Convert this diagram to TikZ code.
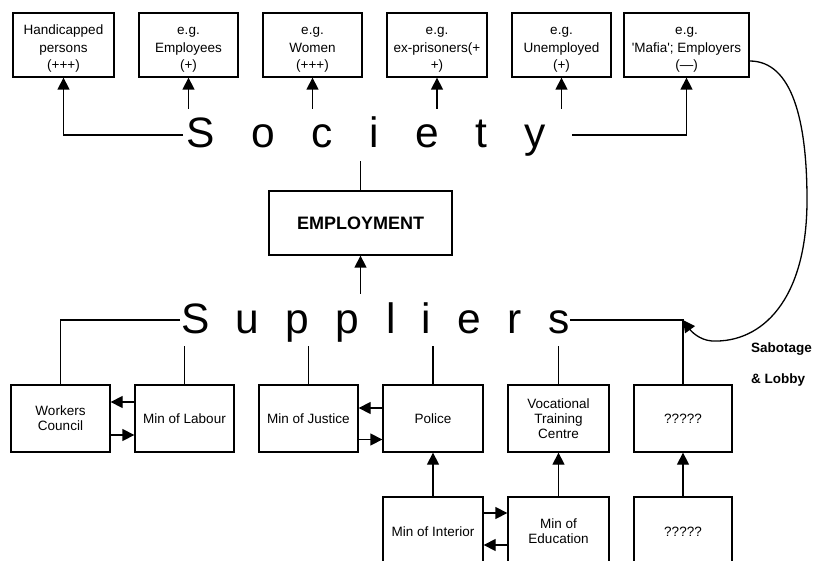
\documentclass[tikz,border=0pt]{standalone}
\usepackage{fontspec}
\setmainfont{Liberation Sans}
\usetikzlibrary{arrows.meta}

% strut that lowers the first line of the three-line boxes
\newcommand{\firstline}{\rule{0pt}{17pt}}

\tikzset{
  box/.style={draw, line width=1.3pt, inner sep=0pt, align=center,
    font=\fontsize{13.5}{17.5}\selectfont},
  topbox/.style={box, minimum height=64pt},
  lowbox/.style={box, minimum height=67pt, font=\fontsize{13.5}{15}\selectfont},
  basebox/.style={box, minimum height=69pt, font=\fontsize{13.5}{15}\selectfont},
  bigword/.style={inner xsep=0pt, inner ysep=6pt, text height=33pt, text depth=7pt,
    font=\fontsize{42.5}{46}\selectfont},
  link/.style={line width=1.3pt},
  arr/.style={line width=1.3pt, -{Triangle[length=12pt,width=12pt]}}
}

\begin{document}
\begin{tikzpicture}[x=1pt, y=-1pt]
  \useasboundingbox (0,0) rectangle (816,561);

  % groups in society
  \node[topbox, minimum width=101pt] (b1) at (63.5,45) {\firstline Handicapped\\persons\\(+++)};
  \node[topbox, minimum width=99pt]  (b2) at (188.5,45) {\firstline e.g.\\Employees\\(+)};
  \node[topbox, minimum width=99pt]  (b3) at (312.5,45) {\firstline e.g.\\Women\\(+++)};
  \node[topbox, minimum width=100pt] (b4) at (437,45) {\firstline e.g.\\ex-prisoners(+\\+)};
  \node[topbox, minimum width=99pt]  (b5) at (561.5,45) {\firstline e.g.\\Unemployed\\(+)};
  \node[topbox, minimum width=125pt] (b6) at (686.5,45)
    {\firstline e.g.\\\textquotesingle Mafia\textquotesingle; Employers\\(---)};

  % the two headings
  \node[bigword, anchor=base west] (soc) at (186,148)
    {\spaceskip=36.7pt S o c i e t y};
  \node[bigword, anchor=base west] (sup) at (181,333)
    {\spaceskip=26.4pt S u p p l i e r s};

  \node[box, minimum width=183pt, minimum height=64pt,
        font=\fontsize{18}{20}\selectfont\bfseries] (emp) at (360.5,223) {EMPLOYMENT};

  % suppliers
  \node[lowbox, minimum width=99pt]  (wc) at (60.5,418.5) {Workers\\Council};
  \node[lowbox, minimum width=99pt]  (ml) at (184.5,418.5) {Min of Labour};
  \node[lowbox, minimum width=99pt]  (mj) at (308.5,418.5) {Min of Justice};
  \node[lowbox, minimum width=100pt] (po) at (433,418.5) {Police};
  \node[lowbox, minimum width=101pt] (vt) at (558.5,418.5) {Vocational\\Training\\Centre};
  \node[lowbox, minimum width=98pt]  (q1) at (683,418.5) {?????};

  \node[basebox, minimum width=100pt] (mi) at (433,531.5) {Min of Interior};
  \node[basebox, minimum width=101pt] (me) at (558.5,531.5) {Min of\\Education};
  \node[basebox, minimum width=98pt]  (q2) at (683,531.5) {?????};

  \node[anchor=west, align=left, inner sep=0pt,
        font=\fontsize{13.5}{31}\selectfont\bfseries] (sab) at (751,364.5)
    {Sabotage\\\& Lobby};

  % society to its groups
  \draw[arr] ([xshift=-3pt]soc.west) -| (b1.south);
  \draw[arr] (soc.north -| b2.south) -- (b2.south);
  \draw[arr] (soc.north -| b3.south) -- (b3.south);
  \draw[arr] (soc.north -| b4.south) -- (b4.south);
  \draw[arr] (soc.north -| b5.south) -- (b5.south);
  \draw[arr] ([xshift=26pt]soc.east) -| (b6.south);

  % employment between society and suppliers
  \draw[link] (soc.south -| emp.north) -- (emp.north);
  \draw[arr] (sup.north -| emp.south) -- (emp.south);

  % suppliers to their members
  \draw[link] ([xshift=-1pt]sup.west) -| (wc.north);
  \draw[link] (sup.south -| ml.north) -- (ml.north);
  \draw[link] (sup.south -| mj.north) -- (mj.north);
  \draw[link] (sup.south -| po.north) -- (po.north);
  \draw[link] (sup.south -| vt.north) -- (vt.north);
  \coordinate (corner) at (sup.east -| q1.north);
  \draw[link] (sup.east) -- (corner) -- (q1.north);

  % exchanges between suppliers
  \draw[arr] ([yshift=16.5pt]ml.west) -- ([yshift=16.5pt]wc.east);
  \draw[arr] ([yshift=-16.5pt]wc.east) -- ([yshift=-16.5pt]ml.west);
  \draw[arr] ([yshift=10.5pt]po.west) -- ([yshift=10.5pt]mj.east);
  \draw[arr] ([yshift=-21pt]mj.east) -- ([yshift=-21pt]po.west);
  \draw[arr] ([yshift=18.5pt]mi.east) -- ([yshift=18.5pt]me.west);
  \draw[arr] ([yshift=-13.5pt]me.west) -- ([yshift=-13.5pt]mi.east);

  % support from below
  \draw[arr] (mi.north) -- (po.south);
  \draw[arr] (me.north) -- (vt.south);
  \draw[arr] (q2.north) -- (q1.south);

  % sabotage and lobbying loop
  \draw[arr] ([yshift=-16pt]b6.east)
    .. controls (792,61) and (807,120) .. (807,200)
    .. controls (807,300) and (762,343) .. (712,341)
    .. controls (699,340) and (691,331) .. (corner);
\end{tikzpicture}
\end{document}
